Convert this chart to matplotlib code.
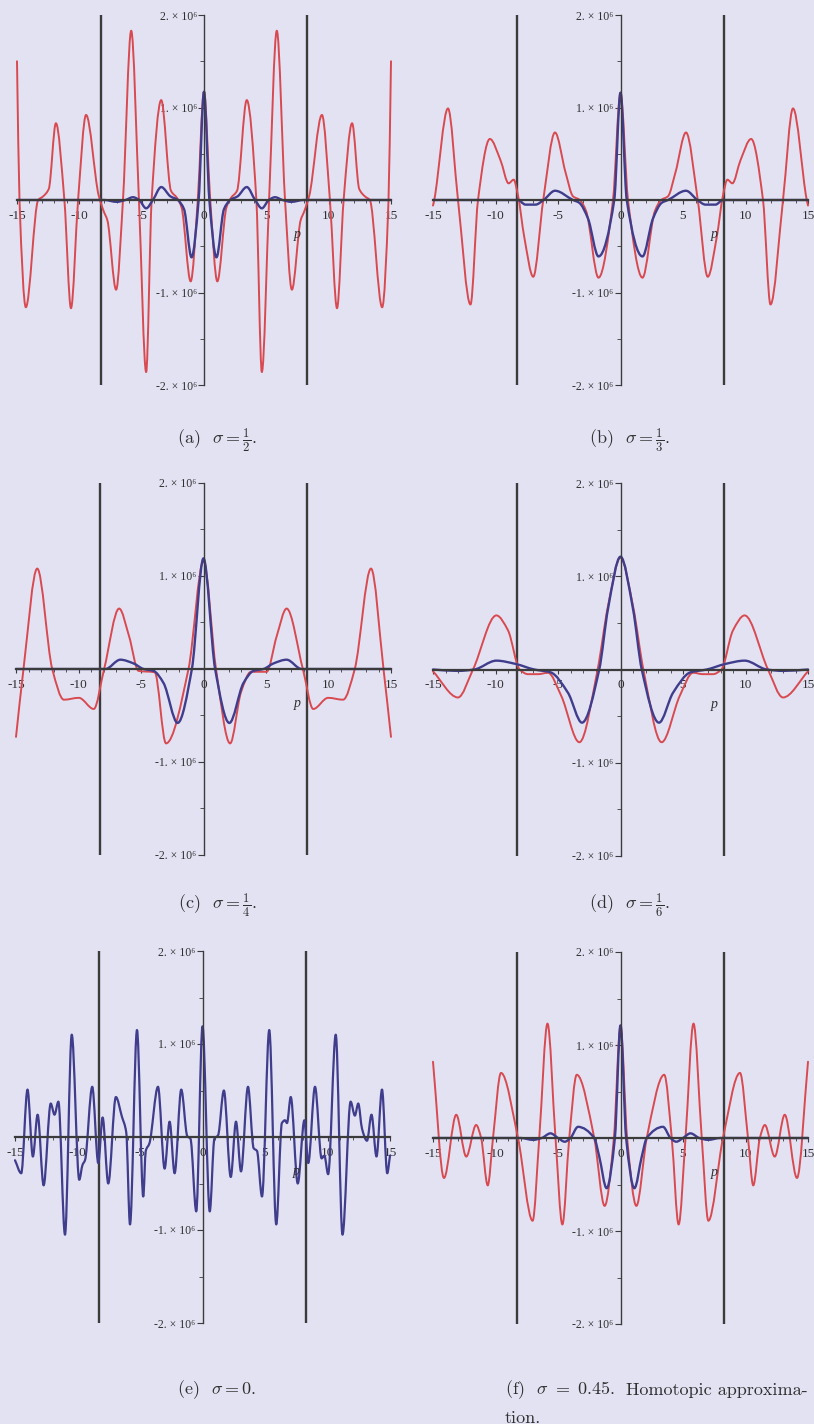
import numpy as np
import matplotlib.pyplot as plt
from matplotlib.path import Path
from matplotlib.patches import PathPatch

plt.rcParams['font.family'] = ['Liberation Serif', 'DejaVu Serif']
plt.rcParams['mathtext.fontset'] = 'cm'

# Amplitude against p, values in units of 1e6.
# Panels a, b, d, f are even in p, so only p >= 0 is listed for them.

# (a) sigma = 1/2
p_a_red = [0, 0.5, 1.07, 1.8, 2.15, 2.65, 3.43, 4.2, 4.64, 5.22, 5.84, 6.5, 7.05,
           7.75, 8.05, 8.45, 9.46, 10.1, 10.67, 11.2, 11.88, 12.45, 12.9, 13.3,
           14.29, 14.8, 15.0]
v_a_red = [1.17, 0.0, -0.88, -0.08, 0.02, 0.1, 1.08, 0.0, -1.86, 0.0, 1.83, 0.0, -0.97,
           -0.22, -0.12, 0.05, 0.92, 0.0, -1.17, 0.0, 0.83, 0.12, 0.04, 0.0,
           -1.16, 0.0, 1.5]
p_a_blue = [0, 0.43, 1.0, 1.6, 2.1, 2.7, 3.43, 4.1, 4.64, 5.2, 5.7, 6.3, 7.0, 8.0, 15.0]
v_a_blue = [1.17, 0.0, -0.62, -0.1, 0.0, 0.04, 0.14, 0.0, -0.09, 0.0, 0.03, 0.0, -0.02, 0.0, 0.0]

# (b) sigma = 1/3
p_b_red = [0, 0.6, 1.76, 2.75, 3.25, 3.8, 4.4, 5.24, 6.18, 6.98, 7.7, 8.2, 8.55, 8.95,
           9.6, 10.45, 11.4, 12.0, 13.0, 13.8, 14.9, 15.0]
v_b_red = [1.16, 0.0, -0.84, -0.12, 0.0, 0.04, 0.3, 0.73, 0.0, -0.83, -0.4, 0.05, 0.22, 0.18,
           0.43, 0.66, 0.0, -1.13, 0.0, 0.99, 0.0, -0.06]
p_b_blue = [0, 0.5, 1.76, 2.6, 3.3, 3.8, 5.24, 6.15, 6.8, 7.6, 8.2, 15.0]
v_b_blue = [1.16, 0.0, -0.61, -0.2, -0.03, 0.0, 0.10, 0.0, -0.05, -0.05, 0.0, 0.0]

# (c) sigma = 1/4 (red listed over the full range)
p_c_red = [-15.0, -14.4, -13.3, -12.1, -11.17, -9.97, -8.78, -7.95, -6.75, -5.95, -5.2,
           -3.9, -3.0, -1.2, 0, 1.0, 2.13, 3.0, 3.8, 5.05, 5.85, 6.65, 7.95, 8.78,
           9.97, 11.17, 12.1, 13.4, 14.4, 15.0]
v_c_red = [-0.73, 0.0, 1.08, 0.0, -0.33, -0.31, -0.43, 0.0, 0.65, 0.35, -0.02,
           -0.035, -0.80, 0.0, 1.16, 0.0, -0.80, -0.25, -0.03, -0.03, 0.35, 0.65, 0.0, -0.43,
           -0.31, -0.33, 0.0, 1.08, 0.0, -0.73]
p_c_blue = [0, 0.93, 2.07, 3.2, 4.0, 4.8, 5.6, 6.65, 7.85, 15.0]
v_c_blue = [1.19, 0.0, -0.58, -0.15, -0.02, 0.0, 0.06, 0.10, 0.0, 0.0]

# (d) sigma = 1/6
p_d_red = [0, 1.0, 1.83, 3.29, 4.75, 5.8, 6.6, 7.4, 8.07, 9.0, 9.93, 11.8, 13.0, 15.0]
v_d_red = [1.20, 0.68, 0.0, -0.78, -0.28, -0.035, -0.05, -0.05, 0.0, 0.42, 0.58, 0.0, -0.30, -0.02]
p_d_blue = [0, 1.0, 1.7, 3.08, 4.2, 5.6, 6.9, 8.4, 9.93, 11.7, 13.0, 15.0]
v_d_blue = [1.21, 0.65, 0.0, -0.57, -0.25, -0.03, 0.0, 0.06, 0.095, 0.0, -0.015, 0.0]

# (e) sigma = 0, single curve over the full range
p_e = [-15.0, -14.5, -14.0, -13.57, -13.19, -12.71, -12.14, -11.84, -11.53, -11.0,
       -10.46, -9.86, -9.6, -9.4, -8.82, -8.34, -7.99, -7.54, -6.93, -6.45, -6.1,
       -5.8, -5.24, -4.74, -4.54, -4.25, -3.56, -3.03, -2.63, -2.23, -1.7, -1.22,
       -0.96, -0.5, 0, 0.58, 0.95, 1.25, 1.71, 2.26, 2.68, 3.08, 3.64, 4.09, 4.36,
       4.76, 5.34, 5.9, 6.35, 6.6, 6.76, 7.06, 7.62, 8.15, 8.46, 9.0, 9.53, 9.75,
       10.05, 10.66, 11.2, 11.85, 12.19, 12.46, 12.76, 13.16, 13.52, 13.92, 14.36,
       14.78, 15.0]
v_e = [-0.25, -0.39, 0.51, -0.21, 0.24, -0.52, 0.36, 0.24, 0.38, -1.05,
       1.10, -0.46, -0.3, -0.25, 0.54, -0.28, 0.21, -0.50, 0.43, 0.22, 0.05,
       -0.94, 1.15, -0.64, -0.15, -0.07, 0.54, -0.34, 0.165, -0.39, 0.51, 0.01,
       -0.02, -0.80, 1.19, -0.80, -0.02, 0.02, 0.50, -0.43, 0.165, -0.37, 0.54, -0.12, -0.15,
       -0.64, 1.15, -0.94, 0.15, 0.18, 0.15, 0.43, -0.50, 0.18, -0.28, 0.54, -0.23, -0.20,
       -0.40, 1.10, -1.05, 0.38, 0.23, 0.36, 0.09, -0.04, 0.24, -0.21, 0.51,
       -0.39, -0.2]

# (f) sigma = 0.45, homotopic approximation
p_f_red = [0, 0.53, 1.27, 2.1, 3.5, 4.1, 4.65, 5.2, 5.84, 6.5, 7.03, 8.2, 9.56, 10.2,
           10.62, 11.15, 11.55, 12.34, 13.14, 14.12, 15.0]
v_f_red = [1.21, 0.0, -0.73, 0.0, 0.68, 0.0, -0.93, 0.0, 1.23, 0.0, -0.89, 0.0, 0.70, 0.0,
           -0.51, 0.0, 0.14, -0.20, 0.25, -0.43, 0.82]
p_f_blue = [0, 0.45, 1.11, 1.7, 2.1, 3.4, 4.0, 4.46, 5.0, 5.6, 6.3, 7.0, 8.0, 15.0]
v_f_blue = [1.21, 0.0, -0.54, -0.2, 0.0, 0.12, 0.0, -0.04, 0.0, 0.05, 0.0, -0.02, 0.0, 0.0]

x_ticks = [-15, -10, -5, 0, 5, 10, 15]
y_ticks = [-2, -1, 1, 2]
y_labels = ['-2. \u00d7 10\u2076', '-1. \u00d7 10\u2076', '1. \u00d7 10\u2076', '2. \u00d7 10\u2076']
p_marker = 8.3  # the two vertical bars

BG = '#e3e2f3'
RED = '#d84a50'
BLUE = '#3f3d8c'
INK = '#3b3b3b'
TXT = '#2f2f2f'


def mirror(p, v):
    p = np.asarray(p, float)
    v = np.asarray(v, float)
    return np.concatenate([-p[:0:-1], p]), np.concatenate([v[:0:-1], v])


def smooth_path(x, y):
    # cubic Bezier through the points, slopes chosen to keep extrema flat
    x = np.asarray(x, float)
    y = np.asarray(y, float)
    h = np.diff(x)
    d = np.diff(y) / h
    m = np.zeros_like(y)
    for k in range(1, len(x) - 1):
        if d[k - 1] * d[k] > 0:
            w1 = 2 * h[k] + h[k - 1]
            w2 = h[k] + 2 * h[k - 1]
            m[k] = (w1 + w2) / (w1 / d[k - 1] + w2 / d[k])
    m[0] = d[0]
    m[-1] = d[-1]
    verts = [(x[0], y[0])]
    codes = [Path.MOVETO]
    for k in range(len(x) - 1):
        verts += [(x[k] + h[k] / 3, y[k] + m[k] * h[k] / 3),
                  (x[k + 1] - h[k] / 3, y[k + 1] - m[k + 1] * h[k] / 3),
                  (x[k + 1], y[k + 1])]
        codes += [Path.CURVE4] * 3
    return Path(verts, codes)


def draw_curve(ax, x, y, color, lw, z):
    ax.add_patch(PathPatch(smooth_path(x, y), fill=False, edgecolor=color, lw=lw,
                           zorder=z, clip_on=False, capstyle='round', joinstyle='round'))


def style(ax):
    ax.set_xlim(-15, 15)
    ax.set_ylim(-2, 2)
    ax.patch.set_visible(False)
    ax.spines[['top', 'right']].set_visible(False)
    ax.spines['left'].set_position(('data', 0))
    ax.spines['bottom'].set_position(('data', 0))
    ax.spines['left'].set_linewidth(1.0)
    ax.spines['bottom'].set_linewidth(1.6)
    ax.spines['left'].set_color(INK)
    ax.spines['bottom'].set_color(INK)
    ax.spines['left'].set_zorder(3)
    ax.spines['bottom'].set_zorder(3)
    ax.set_xticks(x_ticks, [str(t) for t in x_ticks])
    ax.set_xticks(np.arange(-15, 16), minor=True)
    ax.set_yticks(y_ticks, y_labels)
    ax.set_yticks([-1.5, -0.5, 0.5, 1.5], minor=True)
    ax.tick_params(axis='both', which='both', colors=INK, labelcolor=TXT)
    ax.tick_params(axis='x', which='major', length=3, width=0.8, pad=4, labelsize=9.5)
    ax.tick_params(axis='x', which='minor', length=2, width=0.6)
    ax.tick_params(axis='y', which='major', length=4, width=0.8, pad=1, labelsize=8.5)
    ax.tick_params(axis='y', which='minor', length=3, width=0.6)
    for xv in (-p_marker, p_marker):
        ax.axvline(xv, color=INK, lw=1.7, zorder=1.5)
    ax.text(7.5, -0.37, 'p', style='italic', fontsize=10, ha='center', va='center', color=TXT)


W, H = 814, 1424
fig = plt.figure(figsize=(W / 100, H / 100), dpi=100)
fig.patch.set_facecolor(BG)

# pixel boxes (left, right, top, bottom) of the p range [-15, 15] x [-2e6, 2e6]
boxes = {
    'a': (17, 391, 15, 385),
    'b': (433, 808, 15, 385),
    'c': (16, 391, 483, 855),
    'd': (433, 808, 483, 856),
    'e': (15, 390, 951, 1323),
    'f': (433, 808, 952, 1324),
}
axes = {}
for key, (x0, x1, yt, yb) in boxes.items():
    ax = fig.add_axes([x0 / W, 1 - yb / H, (x1 - x0) / W, (yb - yt) / H])
    style(ax)
    axes[key] = ax

draw_curve(axes['a'], *mirror(p_a_red, v_a_red), RED, 1.4, 2)
draw_curve(axes['a'], *mirror(p_a_blue, v_a_blue), BLUE, 1.7, 2.2)
draw_curve(axes['b'], *mirror(p_b_red, v_b_red), RED, 1.4, 2)
draw_curve(axes['b'], *mirror(p_b_blue, v_b_blue), BLUE, 1.7, 2.2)
draw_curve(axes['c'], p_c_red, v_c_red, RED, 1.4, 2)
draw_curve(axes['c'], *mirror(p_c_blue, v_c_blue), BLUE, 1.7, 2.2)
draw_curve(axes['d'], *mirror(p_d_red, v_d_red), RED, 1.4, 2)
draw_curve(axes['d'], *mirror(p_d_blue, v_d_blue), BLUE, 1.7, 2.2)
draw_curve(axes['e'], p_e, v_e, BLUE, 1.6, 2.2)
draw_curve(axes['f'], *mirror(p_f_red, v_f_red), RED, 1.4, 2)
draw_curve(axes['f'], *mirror(p_f_blue, v_f_blue), BLUE, 1.7, 2.2)

cap = dict(fontsize=13, family='cmr10', color=TXT, va='center')
fig.text(217 / W, 1 - 440 / H, r'(a)  $\sigma = \frac{1}{2}$.', ha='center', **cap)
fig.text(629 / W, 1 - 440 / H, r'(b)  $\sigma = \frac{1}{3}$.', ha='center', **cap)
fig.text(217 / W, 1 - 905 / H, r'(c)  $\sigma = \frac{1}{4}$.', ha='center', **cap)
fig.text(629 / W, 1 - 905 / H, r'(d)  $\sigma = \frac{1}{6}$.', ha='center', **cap)
fig.text(217 / W, 1 - 1390 / H, r'(e)  $\sigma = 0$.', ha='center', **cap)
# the (f) caption is set justified across the column
fig.text(505 / W, 1 - 1390 / H, r'(f)  $\sigma\ =\ 0.45$.', ha='left', **cap)
fig.text(808 / W, 1 - 1390 / H, 'Homotopic approxima-', ha='right', **cap)
fig.text(505 / W, 1 - 1418 / H, 'tion.', ha='left', **cap)

fig.savefig('out.png', dpi=100, facecolor=BG)
